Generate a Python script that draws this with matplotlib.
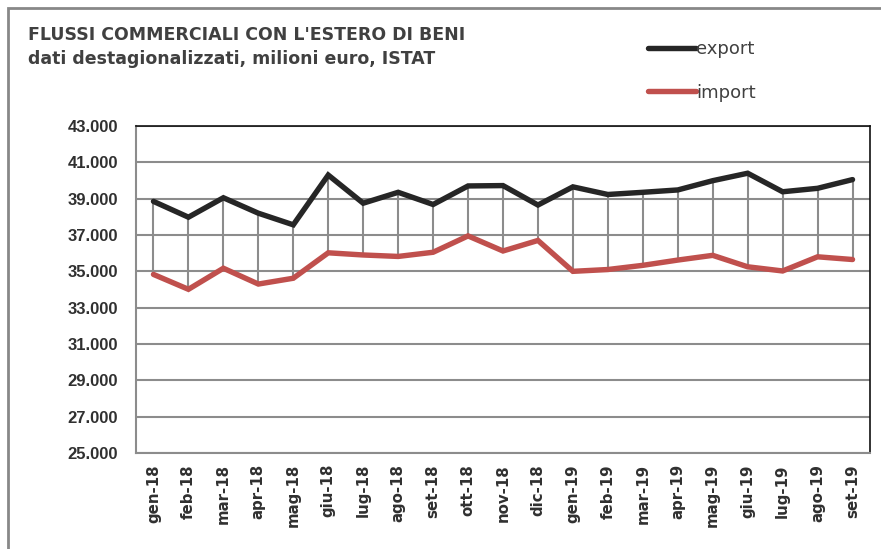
"""
plot.py

Flussi commerciali con l'estero di beni (ISTAT), export vs import,
monthly seasonally adjusted values in million euro.
"""

import matplotlib
matplotlib.use("Agg")
import matplotlib.pyplot as plt
from matplotlib.patches import Rectangle
from matplotlib.ticker import FuncFormatter

months = [
    "gen-18", "feb-18", "mar-18", "apr-18", "mag-18", "giu-18", "lug-18",
    "ago-18", "set-18", "ott-18", "nov-18", "dic-18", "gen-19", "feb-19",
    "mar-19", "apr-19", "mag-19", "giu-19", "lug-19", "ago-19", "set-19",
]
export_values = [
    38850, 37980, 39050, 38200, 37560, 40300, 38750, 39350, 38680, 39700,
    39720, 38650, 39650, 39230, 39350, 39480, 39990, 40400, 39380, 39570,
    40050,
]
import_values = [
    34830, 34010, 35170, 34300, 34620, 36020, 35900, 35820, 36050, 36950,
    36120, 36700, 35000, 35100, 35330, 35620, 35880, 35250, 35020, 35800,
    35650,
]
y_ticks = [25000, 27000, 29000, 31000, 33000, 35000, 37000, 39000, 41000, 43000]

EXPORT_COLOR = "#262626"
IMPORT_COLOR = "#c0504d"
GRID_COLOR = "#8c8c8c"
TEXT_COLOR = "#303030"

TITLE_FONT = ["DejaVu Sans"]
YTICK_FONT = ["Liberation Sans", "DejaVu Sans"]
XTICK_FONT = ["DejaVu Sans"]


def thousands(v, _pos):
    return f"{v:,.0f}".replace(",", ".")


fig = plt.figure(figsize=(8.81, 5.49), dpi=100)
ax = fig.add_axes([136 / 881, 1 - 453 / 549, 734 / 881, 327 / 549])

# outer frame of the chart object (only top and left show in the crop)
fig.patches.append(Rectangle((8 / 881, -0.1), 1.2, 1 - 8 / 549 + 0.1,
                             transform=fig.transFigure, fill=False,
                             edgecolor="#888888", linewidth=2))

x = list(range(len(months)))

# high-low lines between the two series
ax.vlines(x, import_values, export_values, colors=GRID_COLOR, linewidth=1.5, zorder=2)

ax.plot(x, export_values, color=EXPORT_COLOR, linewidth=3.9,
        solid_capstyle="round", solid_joinstyle="miter", zorder=3, label="export")
ax.plot(x, import_values, color=IMPORT_COLOR, linewidth=3.9,
        solid_capstyle="round", solid_joinstyle="miter", zorder=3, label="import")

ax.set_xlim(-0.5, len(months) - 0.5)
ax.set_ylim(25000, 43000)
ax.set_yticks(y_ticks)
ax.yaxis.set_major_formatter(FuncFormatter(thousands))
ax.set_xticks(x)
ax.set_xticklabels(months, rotation=90)
ax.grid(axis="y", color=GRID_COLOR, linewidth=1.5, zorder=1)
ax.set_axisbelow(True)

ax.tick_params(axis="both", length=0, colors=TEXT_COLOR)
ax.tick_params(axis="y", pad=13)
ax.tick_params(axis="x", pad=8)
for lab in ax.get_yticklabels():
    lab.set_fontfamily(YTICK_FONT)
    lab.set_fontweight("bold")
    lab.set_fontsize(12)
for lab in ax.get_xticklabels():
    lab.set_fontfamily(XTICK_FONT)
    lab.set_fontweight("bold")
    lab.set_fontsize(10.8)

for side in ("left", "bottom"):
    ax.spines[side].set_color(GRID_COLOR)
    ax.spines[side].set_linewidth(1.5)
for side in ("top", "right"):
    ax.spines[side].set_color("#111111")
    ax.spines[side].set_linewidth(1.2)

fig.text(28 / 881, 1 - 35 / 549, "FLUSSI COMMERCIALI CON L'ESTERO DI BENI",
         fontfamily=TITLE_FONT, fontweight="bold", fontsize=12.5,
         color="#404040", va="center", ha="left")
fig.text(28 / 881, 1 - 64 / 549, "dati destagionalizzati, milioni euro, ISTAT",
         fontfamily=TITLE_FONT, fontweight="bold", fontsize=12.5,
         color="#404040", va="baseline", ha="left")

ax.legend(loc="upper left", bbox_to_anchor=(639 / 881, 1 - 31 / 549),
          bbox_transform=fig.transFigure, frameon=False, handlelength=2.65,
          handletextpad=0.0, labelspacing=1.42, borderpad=0,
          prop={"family": ["DejaVu Sans"], "size": 13}, labelcolor="#404040")

fig.savefig("out.png", dpi=100, facecolor="white")
